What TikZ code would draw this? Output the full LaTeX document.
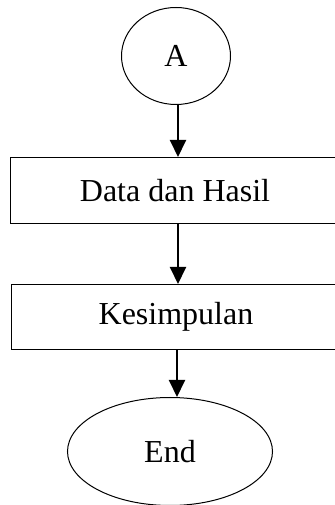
\documentclass[tikz,border=0pt]{standalone}
\usepackage{fontspec}
\setmainfont{Liberation Serif}
\usetikzlibrary{positioning,shapes.geometric,arrows.meta}

\begin{document}
\begin{tikzpicture}[x=1pt,y=1pt,
        term/.style = {draw, ellipse, line width=1pt},
        main/.style = {draw, rectangle, line width=1pt, minimum width=330pt, minimum height=66pt},
        every node/.style = {font=\fontsize{32}{38}\selectfont},
        >={Triangle[width=16pt,length=17pt]}]
        \useasboundingbox (0,0) rectangle (334,505);
        \node[term, minimum width=109pt, minimum height=97pt] (A) at (176,449) {A};
        \node[main] (data) [below=52pt of A, xshift=-1pt] {Data dan Hasil};
        \node[main, minimum height=65pt] (kes) [below=60pt of data, xshift=1pt] {Kesimpulan};
        \node[term, minimum width=205pt, minimum height=108pt] (end) [below=47pt of kes, xshift=-6pt] {End};
        \draw[->, line width=2pt] (A.south) ++(2pt,0) coordinate (a1) -- (a1 |- data.north);
        \draw[->, line width=2pt] (data.south) ++(3pt,0) coordinate (d1) -- (d1 |- kes.north);
        \draw[->, line width=2pt] (kes.south) ++(1pt,0) coordinate (k1) -- (k1 |- end.north);
\end{tikzpicture}
\end{document}
